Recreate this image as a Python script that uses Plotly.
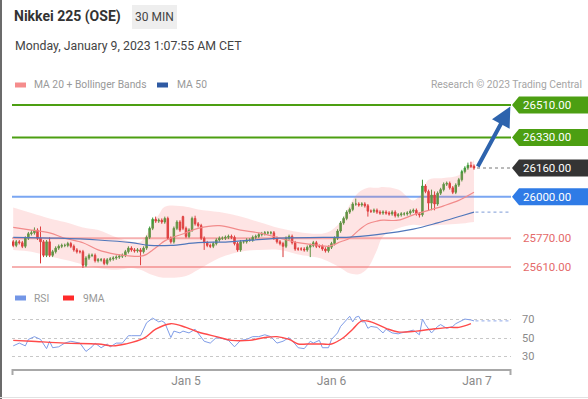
import pandas as pd
import plotly.graph_objects as go

# ---------------- data ----------------
title_text = "Nikkei 225 (OSE)"
interval_text = "30 MIN"
stamp_text = "Monday, January 9, 2023 1:07:55 AM CET"
credit_text = "Research \u00a9 2023 Trading Central"
legend_price = ["MA 20 + Bollinger Bands", "MA 50"]
legend_rsi = ["RSI", "9MA"]

first_candle = "2023-01-03 19:30"
n_candles = 153
tick_dates = ["2023-01-05", "2023-01-06", "2023-01-07"]
tick_labels = ["Jan 5", "Jan 6", "Jan 7"]
x_window = ["2023-01-03 19:17:54", "2023-01-07 05:36:30"]

opens = [25750,25730,25750,25745,25725,25770,25795,25800,25815,25770,
 25750,25675,25750,25675,25695,25715,25725,25730,25730,25740,
 25725,25705,25695,25695,25620,25660,25675,25675,25645,25650,
 25650,25630,25650,25655,25660,25665,25670,25675,25695,25715,
 25705,25700,25705,25695,25715,25775,25825,25875,25865,25870,
 25860,25880,25770,25750,25825,25860,25890,25825,25780,25815,
 25880,25850,25840,25770,25745,25730,25725,25740,25760,25770,
 25770,25775,25780,25775,25740,25705,25750,25750,25760,25760,
 25775,25780,25790,25795,25800,25800,25800,25770,25750,25740,
 25725,25770,25780,25745,25710,25710,25710,25705,25720,25730,
 25745,25725,25725,25710,25700,25720,25740,25770,25810,25855,
 25880,25915,25930,25960,25960,25955,25960,25950,25920,25920,
 25925,25915,25910,25915,25910,25905,25915,25895,25900,25905,
 25905,25910,25920,25925,25905,25900,26060,26030,25965,26010,
 25960,26020,26040,26070,26075,26050,26025,26065,26095,26140,
 26160,26175,26170]
highs = [25760,25760,25760,25755,25780,25805,25815,25830,25825,25835,
 25760,25760,25775,25705,25725,25735,25740,25740,25750,25750,
 25735,25715,25705,25705,25670,25685,25685,25685,25660,25660,
 25660,25660,25665,25670,25675,25680,25685,25705,25725,25725,
 25715,25715,25715,25725,25785,25835,25885,25890,25880,25880,
 25890,25890,25780,25835,25870,25870,25895,25835,25825,25890,
 25895,25860,25850,25780,25755,25740,25750,25770,25780,25780,
 25785,25790,25790,25785,25750,25760,25760,25770,25770,25785,
 25790,25800,25805,25810,25810,25810,25810,25780,25760,25750,
 25780,25790,25790,25755,25720,25720,25720,25730,25740,25755,
 25755,25735,25735,25720,25730,25750,25780,25820,25865,25890,
 25925,25940,25970,25990,25970,25970,25970,25960,25930,25935,
 25935,25925,25925,25925,25920,25925,25925,25910,25915,25915,
 25920,25930,25935,25935,25915,26095,26070,26040,26040,26030,
 26030,26050,26080,26085,26085,26060,26075,26105,26150,26170,
 26190,26195,26180]
lows = [25720,25720,25735,25715,25715,25760,25785,25790,25760,25630,
 25665,25665,25665,25665,25685,25705,25715,25720,25720,25715,
 25695,25685,25685,25605,25610,25650,25665,25635,25635,25640,
 25620,25620,25640,25645,25650,25655,25660,25665,25685,25695,
 25690,25690,25620,25685,25705,25765,25815,25855,25855,25850,
 25850,25760,25740,25740,25815,25805,25815,25770,25770,25805,
 25840,25830,25760,25705,25720,25715,25715,25730,25750,25760,
 25760,25765,25765,25730,25695,25695,25740,25740,25750,25750,
 25765,25770,25780,25785,25790,25790,25760,25740,25730,25665,
 25715,25760,25735,25700,25700,25700,25695,25695,25665,25720,
 25715,25715,25700,25690,25690,25710,25730,25760,25800,25845,
 25870,25905,25920,25950,25945,25945,25940,25890,25910,25910,
 25905,25900,25900,25900,25895,25895,25885,25885,25890,25895,
 25895,25900,25910,25895,25885,25890,26020,25925,25925,25925,
 25950,26010,26030,26060,26040,26015,26015,26055,26085,26130,
 26150,26160,26150]
closes = [25730,25750,25745,25725,25770,25795,25800,25815,25770,25750,
 25675,25750,25675,25695,25715,25725,25730,25730,25740,25725,
 25705,25695,25695,25620,25660,25675,25675,25645,25650,25650,
 25630,25650,25655,25660,25665,25670,25675,25695,25715,25705,
 25700,25705,25695,25715,25775,25825,25875,25865,25870,25860,
 25880,25770,25750,25825,25860,25815,25825,25780,25815,25880,
 25850,25840,25770,25745,25730,25725,25740,25760,25770,25770,
 25775,25780,25775,25740,25705,25750,25750,25760,25760,25775,
 25780,25790,25795,25800,25800,25800,25770,25750,25740,25725,
 25770,25780,25745,25710,25710,25710,25705,25720,25730,25745,
 25725,25725,25710,25700,25720,25740,25770,25810,25855,25880,
 25915,25930,25960,25960,25955,25960,25950,25920,25920,25925,
 25915,25910,25915,25910,25905,25915,25895,25900,25905,25905,
 25910,25920,25925,25905,25900,26060,26030,25965,26010,25960,
 26020,26040,26070,26075,26050,26025,26065,26095,26140,26160,
 26175,26170,26160]

bb_idx = [0,6,12,17,23,28,34,39,42,44,46,48,50,57,61,68,75,81,88,94,
          101,104,108,111,114,117,120,122,127,132,135,137,142,147,152]
bb_upper = [25940,25910,25880,25860,25830,25815,25775,25750,25750,25790,
            25850,25900,25945,25945,25930,25915,25890,25860,25825,25805,
            25795,25805,25860,25955,26025,26050,26050,26055,26040,25980,
            26025,26095,26105,26120,26205]
bb_lower = [25705,25695,25670,25650,25625,25605,25595,25605,25595,25580,
            25565,25555,25550,25560,25595,25660,25695,25705,25705,25680,
            25660,25640,25605,25575,25570,25605,25705,25780,25825,25845,
            25840,25840,25845,25850,25860]
ma20 = [25830,25815,25800,25770,25745,25705,25680,25670,25670,25680,
        25705,25730,25755,25800,25825,25840,25815,25800,25770,25745,
        25730,25725,25750,25770,25815,25850,25865,25870,25870,25900,
        25915,25925,25950,25980,26025]
ma50_idx = [0,15,28,39,45,52,61,71,88,104,110,120,132,140,148,152]
ma50 = [25775,25770,25760,25745,25730,25730,25745,25750,25770,25775,
        25775,25790,25820,25855,25895,25915]

rsi_idx = [0,2,4,5,7,9,11,12,13,15,17,19,22,24,26,27,29,31,32,34,
           36,38,39,42,44,46,48,49,50,52,53,55,56,58,60,61,63,65,67,69,
           71,73,75,77,79,81,83,85,87,89,91,93,94,96,98,99,101,102,104,105,
           107,108,110,111,112,113,114,115,116,117,118,120,122,123,125,127,128,131,132,134,
           135,136,138,140,141,143,145,146,148,149,151,152]
rsi = [42,45,42,49,52,49,39,47,40,41,45,47,45,36,41,45,40,44,41,45,
       45,53,53,53,67,72,68,69,67,51,58,56,58,56,60,56,47,45,51,50,
       48,41,48,49,52,52,54,52,45,47,51,44,40,39,47,45,48,40,40,49,
       56,63,71,74,68,73,74,68,68,61,63,62,56,60,56,55,56,58,59,54,
       71,65,56,63,65,61,63,66,69,71,70,69]
ma9_idx = [0,6,17,28,33,37,43,47,52,57,61,67,72,78,83,87,91,94,97,102,
           105,109,112,115,118,123,127,133,138,144,147,151]
ma9 = [48,47,45,44,42,44,50,60,66,62,57,52,48,48,51,52,49,44,44,44,
       44,51,60,69,68,61,57,58,60,62,62,66]
rsi_grid = [30, 50, 70]

resistances = [26510, 26330]
pivot = 26000
supports = [25770, 25610]

# ---------------- helpers ----------------
W, H = 588, 399
def px(x):
    return x / W
def py(y):
    return 1 - y / H

ts = pd.date_range(first_candle, periods=n_candles, freq="30min")
bb_x = [ts[i] for i in bb_idx]
ma50_x = [ts[i] for i in ma50_idx]
rsi_x = [ts[i] for i in rsi_idx]
ma9_x = [ts[i] for i in ma9_idx]
last_t = ts[-1]
x_end = pd.Timestamp(x_window[1])

FONT = "Roboto, Arial, sans-serif"
GREEN = "#4c9f12"
BLUE_LVL = "#7aa6f2"
BLUE_TAG = "#2f7be6"
PINK_LVL = "#f6b1b1"
DARK = "#343434"

fig = go.Figure()

# Bollinger band
fig.add_trace(go.Scatter(x=bb_x, y=bb_upper, mode="lines", line=dict(width=0, shape="spline"),
                         hoverinfo="skip", showlegend=False, xaxis="x", yaxis="y"))
fig.add_trace(go.Scatter(x=bb_x, y=bb_lower, mode="lines", line=dict(width=0, shape="spline"),
                         fill="tonexty", fillcolor="rgba(250,120,120,0.2)",
                         hoverinfo="skip", showlegend=False, xaxis="x", yaxis="y"))
fig.add_trace(go.Scatter(x=bb_x, y=ma20, mode="lines", line=dict(width=1.2, color="#f28b8b", shape="spline"),
                         hoverinfo="skip", showlegend=False, xaxis="x", yaxis="y"))
fig.add_trace(go.Scatter(x=ma50_x, y=ma50, mode="lines", line=dict(width=1.2, color="#5077bb", shape="spline"),
                         hoverinfo="skip", showlegend=False, xaxis="x", yaxis="y"))

fig.add_trace(go.Candlestick(
    x=ts, open=opens, high=highs, low=lows, close=closes,
    increasing=dict(line=dict(color="#3f9a3a", width=1), fillcolor="#3f9a3a"),
    decreasing=dict(line=dict(color="#d83434", width=1), fillcolor="#d83434"),
    showlegend=False, hoverinfo="skip", xaxis="x", yaxis="y"))

# RSI pane
fig.add_trace(go.Scatter(x=rsi_x, y=rsi, mode="lines", line=dict(width=1, color="#7f9de8"),
                         hoverinfo="skip", showlegend=False, xaxis="x2", yaxis="y2"))
fig.add_trace(go.Scatter(x=ma9_x, y=ma9, mode="lines", line=dict(width=1.4, color="#ff4a4a", shape="spline"),
                         hoverinfo="skip", showlegend=False, xaxis="x2", yaxis="y2"))

shapes = []
ann = []

# level lines
for lv in resistances:
    shapes.append(dict(type="line", xref="paper", yref="y", x0=px(12), x1=px(511), y0=lv, y1=lv,
                       line=dict(color=GREEN, width=2), layer="below"))
shapes.append(dict(type="line", xref="paper", yref="y", x0=px(12), x1=px(511), y0=pivot, y1=pivot,
                   line=dict(color=BLUE_LVL, width=2), layer="below"))
for lv in supports:
    shapes.append(dict(type="line", xref="paper", yref="y", x0=px(12), x1=px(511), y0=lv, y1=lv,
                       line=dict(color=PINK_LVL, width=2), layer="below"))

# dotted extensions
shapes.append(dict(type="line", xref="x", yref="y", x0=last_t + pd.Timedelta("30min"), x1=x_end,
                   y0=closes[-1], y1=closes[-1], line=dict(color="#777", width=1, dash="dot")))
shapes.append(dict(type="line", xref="x", yref="y", x0=last_t + pd.Timedelta("15min"), x1=x_end,
                   y0=ma50[-1], y1=ma50[-1], line=dict(color="#7d9ad6", width=1, dash="dot")))
shapes.append(dict(type="line", xref="x2", yref="y2", x0=last_t + pd.Timedelta("15min"), x1=x_end,
                   y0=rsi[-1], y1=rsi[-1], line=dict(color="#8fa8e8", width=1, dash="dot")))

# price tags
tag_path = "M0,0 L7,8.5 L76,8.5 L76,-8.5 L7,-8.5 Z"
def tag(level, color):
    shapes.append(dict(type="path", xref="paper", yref="y", xsizemode="pixel", ysizemode="pixel",
                       xanchor=px(512), yanchor=level, path=tag_path,
                       fillcolor=color, line=dict(width=0)))
    ann.append(dict(xref="paper", yref="y", x=px(521), y=level, text=f"{level:.2f}",
                    showarrow=False, xanchor="left", yanchor="middle",
                    font=dict(family=FONT, size=11.5, color="white")))
for lv in resistances:
    tag(lv, GREEN)
tag(closes[-1], DARK)
tag(pivot, BLUE_TAG)
for lv in supports:
    ann.append(dict(xref="paper", yref="y", x=px(521), y=lv, text=f"{lv:.2f}",
                    showarrow=False, xanchor="left", yanchor="middle",
                    font=dict(family=FONT, size=11.5, color="#e46a6a")))

# RSI scale labels
for g in rsi_grid:
    ann.append(dict(xref="paper", yref="y2", x=px(520), y=g, text=str(g),
                    showarrow=False, xanchor="left", yanchor="middle",
                    font=dict(family=FONT, size=11, color="#8a8a8a")))

# forecast arrow
ann.append(dict(xref="x", yref="y", axref="x", ayref="y",
                x=(last_t + pd.Timedelta("6h")).isoformat(), y=resistances[0] - 8,
                ax=(last_t + pd.Timedelta("30min")).isoformat(), ay=closes[-1],
                text="", showarrow=True, arrowhead=2, arrowsize=1, arrowwidth=4,
                arrowcolor="#2d63ad", standoff=0, startstandoff=0))

# header
shapes.append(dict(type="rect", xref="paper", yref="paper", x0=px(132), x1=px(177), y0=py(29), y1=py(5),
                   fillcolor="#eeeeee", line=dict(width=0)))
ann.append(dict(xref="paper", yref="paper", x=px(12), y=py(17), text=f"<b>{title_text}</b>",
                showarrow=False, xanchor="left", yanchor="middle",
                font=dict(family=FONT, size=14, color="#333")))
ann.append(dict(xref="paper", yref="paper", x=px(154.5), y=py(17), text=interval_text,
                showarrow=False, xanchor="center", yanchor="middle",
                font=dict(family=FONT, size=12, color="#444")))
ann.append(dict(xref="paper", yref="paper", x=px(13), y=py(46), text=stamp_text,
                showarrow=False, xanchor="left", yanchor="middle",
                font=dict(family=FONT, size=12.3, color="#444")))

# legends
def legend_item(x_rect, x_text, y, color, label):
    shapes.append(dict(type="rect", xref="paper", yref="paper", x0=px(x_rect), x1=px(x_rect + 11),
                       y0=py(y + 2.5), y1=py(y - 2.5), fillcolor=color, line=dict(width=0)))
    ann.append(dict(xref="paper", yref="paper", x=px(x_text), y=py(y), text=label,
                    showarrow=False, xanchor="left", yanchor="middle",
                    font=dict(family=FONT, size=10.3, color="#999")))
legend_item(15, 32, 85, "#f58c8c", legend_price[0])
legend_item(157, 175, 85, "#2f5aa3", legend_price[1])
legend_item(15, 32, 298, "#7396e6", legend_rsi[0])
legend_item(63, 81, 298, "#ff2a2a", legend_rsi[1])
ann.append(dict(xref="paper", yref="paper", x=px(584), y=py(85), text=credit_text,
                showarrow=False, xanchor="right", yanchor="middle",
                font=dict(family=FONT, size=10.3, color="#a5a5a5")))

# frame & axis end ticks
shapes.append(dict(type="line", xref="paper", yref="paper", x0=px(1), x1=px(1), y0=0, y1=1,
                   line=dict(color="#6b6b6b", width=2)))
shapes.append(dict(type="line", xref="paper", yref="paper", x0=0, x1=1, y0=py(397.5), y1=py(397.5),
                   line=dict(color="#e2e2e2", width=1)))
for xe in (12.5, 510.5):
    shapes.append(dict(type="line", xref="paper", yref="paper", x0=px(xe), x1=px(xe), y0=py(369), y1=py(375),
                       line=dict(color="#a8a8a8", width=2)))

fig.update_layout(
    width=W, height=H, margin=dict(l=0, r=0, t=0, b=0),
    paper_bgcolor="white", plot_bgcolor="white",
    font=dict(family=FONT),
    showlegend=False, hovermode=False,
    shapes=shapes, annotations=ann,
    xaxis=dict(type="date", domain=[px(12), px(511)], range=x_window, anchor="y",
               showticklabels=False, showgrid=False, zeroline=False, rangeslider=dict(visible=False)),
    yaxis=dict(domain=[py(280), py(95)], range=[25537.8, 26565.6], visible=False, fixedrange=True),
    xaxis2=dict(type="date", domain=[px(12), px(511)], range=x_window, anchor="y2", matches="x",
                showgrid=False, zeroline=False, showline=True, linecolor="#a8a8a8", linewidth=2,
                tickvals=tick_dates, ticktext=tick_labels, ticks="",
                tickfont=dict(family=FONT, size=12, color="#8a8a8a")),
    yaxis2=dict(domain=[py(369), py(300)], range=[17.0, 91.6], anchor="x2",
                tickvals=rsi_grid, showticklabels=False,
                showgrid=True, gridcolor="#c8c8c8", griddash="dot", gridwidth=1,
                zeroline=False, showline=False, ticks=""),
)

fig.write_html("out.html", include_plotlyjs=True, full_html=True,
               config={"displayModeBar": False},
               post_script="document.body.style.margin='0';")
